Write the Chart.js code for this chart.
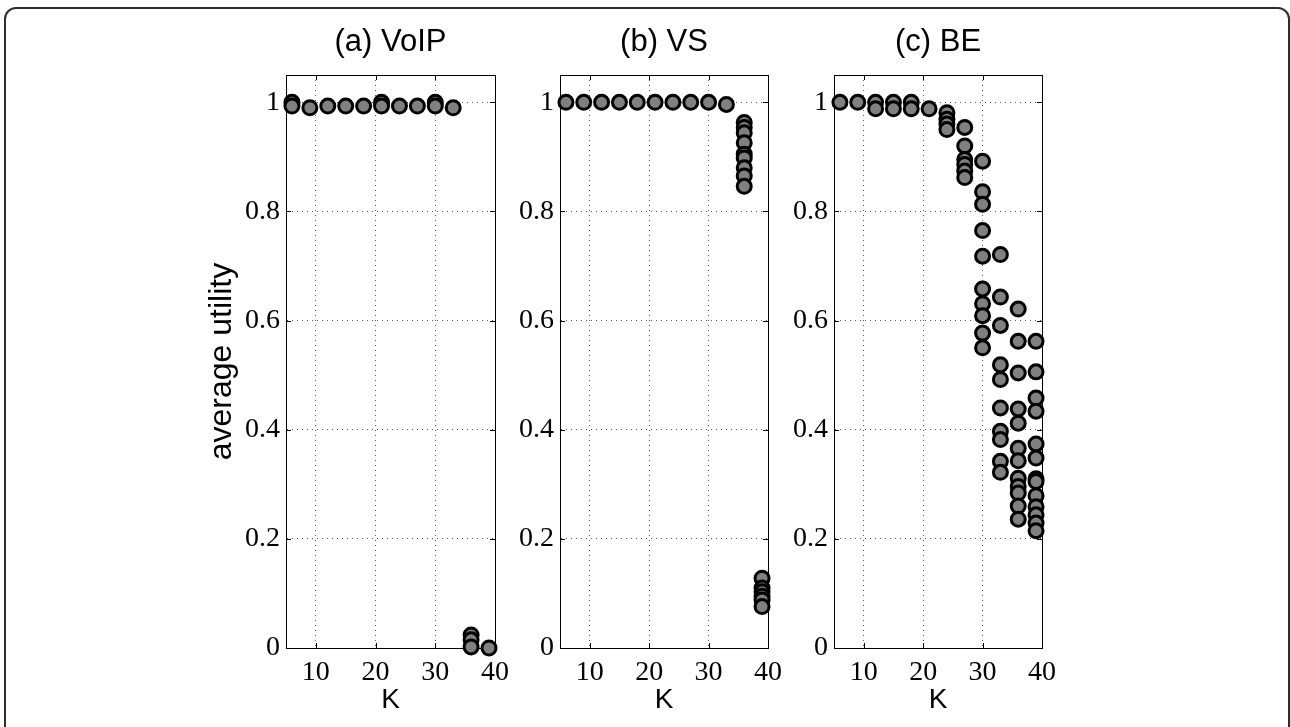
<!DOCTYPE html>
<html>
<head>
<meta charset="utf-8">
<script src="https://cdn.jsdelivr.net/npm/chart.js@4/dist/chart.umd.min.js"></script>
<style>
html,body{margin:0;padding:0;background:#fff;width:1290px;height:727px;overflow:hidden;position:relative;}
#frame{position:absolute;left:4px;top:7px;width:1286px;height:800px;box-sizing:border-box;border:2px solid #2e2e2e;border-radius:12px;}
.wrap{position:absolute;top:0;height:727px;}
canvas{display:block;}
</style>
</head>
<body>
<div id="frame"></div>
<div class="wrap" style="left:190px;width:340px"><canvas id="c1" width="340" height="727"></canvas></div>
<div class="wrap" style="left:510px;width:290px"><canvas id="c2" width="290" height="727"></canvas></div>
<div class="wrap" style="left:784px;width:296px"><canvas id="c3" width="296" height="727"></canvas></div>
<script>
// ---- data ----
const K = [6, 9, 12, 15, 18, 21, 24, 27, 30, 33, 36, 39];
const xTicks = [10, 20, 30, 40];
const yTicks = [0, 0.2, 0.4, 0.6, 0.8, 1];
const panelTitles = ['(a) VoIP', '(b) VS', '(c) BE'];

// average utility per K (several runs per K)
const voipUtility = [
  [1.0, 0.993], [0.99], [0.993], [0.993], [0.993], [1.0, 0.993],
  [0.993], [0.993], [1.0, 0.993], [0.99], [0.024, 0.015, 0.002], [0.0]
];
const vsUtility = [
  [1.0], [1.0], [1.0], [1.0], [1.0], [1.0], [1.0], [1.0], [1.0], [0.996],
  [0.963, 0.954, 0.944, 0.926, 0.905, 0.898, 0.88, 0.865, 0.846],
  [0.128, 0.11, 0.103, 0.095, 0.088, 0.076]
];
const beUtility = [
  [1.0], [1.0], [1.0, 0.988], [1.0, 0.988], [1.0, 0.988], [0.988],
  [0.981, 0.969, 0.96, 0.95],
  [0.954, 0.92, 0.895, 0.886, 0.874, 0.862],
  [0.892, 0.836, 0.813, 0.765, 0.718, 0.658, 0.631, 0.609, 0.577, 0.55],
  [0.721, 0.643, 0.591, 0.519, 0.492, 0.44, 0.397, 0.382, 0.342, 0.322],
  [0.621, 0.562, 0.504, 0.438, 0.412, 0.366, 0.343, 0.311, 0.296, 0.284, 0.26, 0.236],
  [0.562, 0.506, 0.458, 0.434, 0.374, 0.348, 0.31, 0.305, 0.279, 0.259, 0.244, 0.229, 0.215]
];

function toPoints(ks, vals) {
  return ks.flatMap((k, i) => vals[i].map(v => ({x: k, y: v})));
}

const boxPlugin = {
  id: 'box',
  beforeDatasetsDraw(chart) {
    const {ctx, chartArea: a, scales: {x, y}} = chart;
    ctx.save();
    ctx.strokeStyle = '#000';
    ctx.lineWidth = 1;
    ctx.setLineDash([]);
    ctx.strokeRect(Math.round(a.left) + 0.5, Math.round(a.top) + 0.5,
                   Math.round(a.right - a.left), Math.round(a.bottom - a.top));
    ctx.beginPath();
    xTicks.forEach(v => {
      const px = Math.round(x.getPixelForValue(v)) + 0.5;
      ctx.moveTo(px, a.bottom); ctx.lineTo(px, a.bottom - 5);
      ctx.moveTo(px, a.top); ctx.lineTo(px, a.top + 5);
    });
    yTicks.forEach(v => {
      const py = Math.round(y.getPixelForValue(v)) + 0.5;
      ctx.moveTo(a.left, py); ctx.lineTo(a.left + 5, py);
      ctx.moveTo(a.right, py); ctx.lineTo(a.right - 5, py);
    });
    ctx.stroke();
    ctx.restore();
  }
};

function makeChart(id, title, values, yWidth, padRight, showYTitle) {
  return new Chart(document.getElementById(id), {
    type: 'scatter',
    data: {
      datasets: [{
        data: toPoints(K, values),
        pointRadius: 7,
        pointHoverRadius: 7,
        pointBorderWidth: 3,
        pointBackgroundColor: '#808080',
        pointBorderColor: '#000',
        clip: false
      }]
    },
    options: {
      responsive: false,
      animation: false,
      events: [],
      layout: {padding: {left: 0, right: padRight, top: 0, bottom: 0}},
      plugins: {
        legend: {display: false},
        tooltip: {enabled: false},
        title: {
          display: true, text: title, fullSize: false, color: '#000',
          font: {family: 'Liberation Sans', size: 31, weight: 'normal'},
          padding: {top: 24, bottom: 13.8}
        }
      },
      scales: {
        x: {
          type: 'linear', min: 5, max: 40,
          afterBuildTicks: s => { s.ticks = xTicks.map(v => ({value: v})); },
          afterFit: s => { s.height = 79; },
          ticks: {font: {family: 'Liberation Serif', size: 28}, color: '#000', padding: 8, maxRotation: 0, autoSkip: false},
          grid: {drawTicks: false, color: '#555', lineWidth: 1},
          border: {display: true, color: '#000', width: 1, dash: [1, 4]},
          title: {display: true, text: 'K', color: '#000',
                  font: {family: 'Liberation Sans', size: 28, weight: 'normal'},
                  padding: {top: 0, bottom: 10}}
        },
        y: {
          type: 'linear', min: 0, max: 1.05,
          afterBuildTicks: s => { s.ticks = yTicks.map(v => ({value: v})); },
          afterFit: s => { s.width = yWidth; },
          ticks: {
            font: {family: 'Liberation Serif', size: 28}, color: '#000', padding: 6,
            callback: v => (v === 0 ? '0' : v === 1 ? '1' : Number(v).toFixed(1))
          },
          grid: {drawTicks: false, color: '#555', lineWidth: 1},
          border: {display: true, color: '#000', width: 1, dash: [1, 4]},
          title: {display: showYTitle, text: 'average utility', color: '#000',
                  font: {family: 'Liberation Sans', size: 32, weight: 'normal'},
                  padding: {top: 12.8, bottom: 0}}
        }
      }
    },
    plugins: [boxPlugin]
  });
}

makeChart('c1', panelTitles[0], voipUtility, 96, 35, true);
makeChart('c2', panelTitles[1], vsUtility, 50, 32, false);
makeChart('c3', panelTitles[2], beUtility, 50, 38, false);
</script>
</body>
</html>
